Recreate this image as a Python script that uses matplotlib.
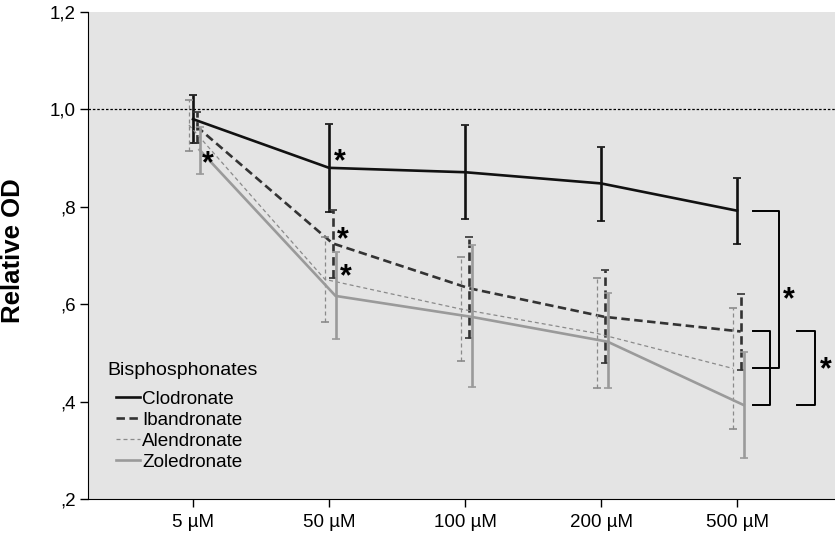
import numpy as np
import matplotlib.pyplot as plt

plt.rcParams["font.family"] = ["Liberation Sans", "DejaVu Sans"]

CONCENTRATIONS = ["5 µM", "50 µM", "100 µM", "200 µM", "500 µM"]
DRUGS = ["Clodronate", "Ibandronate", "Alendronate", "Zoledronate"]

CLODRONATE = [0.980, 0.880, 0.871, 0.848, 0.792]
CLODRONATE_HI = [1.030, 0.969, 0.967, 0.923, 0.859]
CLODRONATE_LO = [0.932, 0.790, 0.774, 0.771, 0.723]

IBANDRONATE = [0.965, 0.725, 0.633, 0.574, 0.544]
IBANDRONATE_HI = [0.995, 0.793, 0.738, 0.670, 0.620]
IBANDRONATE_LO = [0.931, 0.653, 0.530, 0.479, 0.465]

ALENDRONATE = [0.968, 0.651, 0.590, 0.540, 0.468]
ALENDRONATE_HI = [1.019, 0.739, 0.696, 0.654, 0.592]
ALENDRONATE_LO = [0.915, 0.563, 0.483, 0.427, 0.343]

ZOLEDRONATE = [0.917, 0.617, 0.574, 0.523, 0.393]
ZOLEDRONATE_HI = [0.964, 0.708, 0.722, 0.624, 0.502]
ZOLEDRONATE_LO = [0.867, 0.528, 0.431, 0.427, 0.284]

Y_TICKS = [0.2, 0.4, 0.6, 0.8, 1.0, 1.2]
Y_TICK_LABELS = [",2", ",4", ",6", ",8", "1,0", "1,2"]

# significance stars (x, y in data units)
STAR_POS = [(1.08, 0.892), (1.10, 0.732), (1.12, 0.655), (0.11, 0.887),
            (4.38, 0.609), (4.65, 0.465)]

series = [
    (CLODRONATE, CLODRONATE_LO, CLODRONATE_HI, "#111111", "-", 1.9, 0.0),
    (IBANDRONATE, IBANDRONATE_LO, IBANDRONATE_HI, "#333333", (0, (3.2, 1.7)), 1.9, 0.026),
    (ALENDRONATE, ALENDRONATE_LO, ALENDRONATE_HI, "#8a8a8a", (0, (3.2, 2.4)), 0.9, -0.03),
    (ZOLEDRONATE, ZOLEDRONATE_LO, ZOLEDRONATE_HI, "#9a9a9a", "-", 1.9, 0.048),
]

fig = plt.figure(figsize=(8.35, 5.41), dpi=100)
ax = fig.add_axes([88 / 835, 42 / 541, 747 / 835, 487 / 541])
ax.set_facecolor("#e4e4e4")

x = np.arange(len(CONCENTRATIONS))
ax.axhline(1.0, color="black", lw=0.9, ls=(0, (2, 1.5)), zorder=1)

handles = []
for (vals, lo, hi, color, ls, lw, off), name in zip(series, DRUGS):
    vals = np.array(vals)
    yerr = [vals - np.array(lo), np.array(hi) - vals]
    xs = x + off
    line, = ax.plot(xs, vals, color=color, ls=ls, lw=lw, label=name, zorder=3)
    eb = ax.errorbar(xs, vals, yerr=yerr, fmt="none", ecolor=color,
                     elinewidth=lw, capsize=3, capthick=1.2, zorder=3)
    for lc in eb[2]:
        lc.set_linestyle(ls)
    handles.append(line)

for sx, sy in STAR_POS:
    ax.text(sx, sy, "*", fontsize=22, fontweight="bold", ha="center", va="center")

# brackets at 500 uM comparing groups
def bracket(ax, x0, x1, y0, y1):
    ax.plot([x0, x1, x1, x0], [y0, y0, y1, y1], color="black", lw=1.4,
            solid_joinstyle="round", clip_on=False, zorder=4)

bracket(ax, 4.12, 4.31, CLODRONATE[4], ALENDRONATE[4])
bracket(ax, 4.12, 4.245, IBANDRONATE[4], ZOLEDRONATE[4])
bracket(ax, 4.44, 4.57, IBANDRONATE[4], ZOLEDRONATE[4])

ax.set_xlim(-0.772, 4.72)
ax.set_ylim(0.2, 1.2)
ax.set_xticks(x)
ax.set_xticklabels(CONCENTRATIONS, fontsize=13.5)
ax.set_yticks(Y_TICKS)
ax.set_yticklabels(Y_TICK_LABELS, fontsize=13.5)
ax.tick_params(direction="out", length=6, width=1)
ax.tick_params(axis="x", pad=5)
ax.tick_params(axis="y", pad=3)
ax.spines["top"].set_visible(False)
ax.spines["right"].set_visible(False)
ax.set_ylabel("Relative OD", fontsize=18.5, fontweight="bold")
ax.yaxis.set_label_coords(-0.085, 0.51)

ax.text(0.0254, 0.264, "Bisphosphonates", transform=ax.transAxes,
        fontsize=14, ha="left", va="center")
leg = ax.legend(handles=handles, loc="upper left",
                bbox_to_anchor=(0.038, 0.222), frameon=False, fontsize=13.6,
                handlelength=1.25, handletextpad=0.1,
                labelspacing=0.2, borderaxespad=0.0, borderpad=0.0)

fig.savefig("out.png", dpi=100)
